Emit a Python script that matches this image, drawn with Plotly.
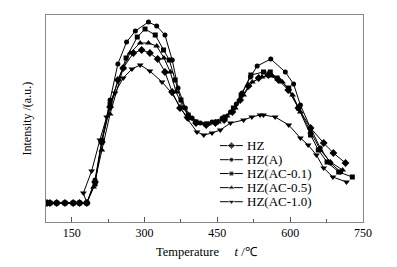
import plotly.graph_objects as go

# ---- data (temperature in degC, intensity in a.u.) ----
names = ["HZ", "HZ(A)", "HZ(AC-0.1)", "HZ(AC-0.5)", "HZ(AC-1.0)"]
symbols = ["diamond", "circle", "square", "triangle-up", "triangle-down"]

base_T = [99, 105, 119, 136, 153, 166, 181]
base_I = [19, 19, 19, 19, 19, 19, 19]

hz_T = [198, 212, 229, 245, 256, 277, 294, 311, 327, 342, 357, 373, 390, 406, 427, 446,
        464, 481, 497, 514, 535, 555, 576, 596, 617, 642, 669, 689, 714]
hz_I = [40, 80, 115, 142, 154, 169, 172, 169, 163, 150, 130, 114, 104, 99, 97, 99,
        102, 110, 122, 136, 144, 147, 142, 132, 114, 94, 79, 69, 59]

hza_T = [198, 212, 229, 245, 263, 281, 308, 325, 342, 357, 369, 384, 398, 415, 439, 460,
         477, 489, 501, 518, 532, 560, 590, 607, 621, 642, 662, 683, 704]
hza_I = [42, 82, 122, 158, 180, 191, 200, 196, 187, 162, 134, 114, 104, 99, 100, 104,
         110, 118, 129, 145, 156, 163, 150, 138, 117, 94, 74, 59, 50]

hz01_T = [198, 212, 229, 262, 285, 301, 322, 339, 351, 363, 375, 390, 406, 427, 448, 466,
          483, 499, 519, 545, 559, 573, 597, 617, 642, 658, 676, 700, 728]
hz01_I = [38, 80, 118, 164, 185, 193, 187, 172, 162, 142, 122, 107, 100, 98, 100, 105,
          114, 127, 147, 150, 150, 144, 134, 114, 87, 72, 60, 50, 45]

hz05_T = [195, 212, 229, 256, 270, 291, 308, 325, 340, 353, 365, 380, 394, 410, 431, 452,
          470, 487, 504, 522, 542, 563, 584, 605, 621, 642, 662, 683, 708]
hz05_I = [35, 72, 108, 154, 169, 179, 179, 176, 164, 150, 130, 114, 104, 99, 98, 100,
          106, 114, 127, 140, 145, 146, 140, 127, 110, 90, 72, 60, 52]

hz10_T = [174, 191, 208, 222, 239, 256, 274, 291, 311, 336, 356, 387, 408, 422, 439, 456,
          477, 504, 521, 538, 545, 569, 597, 621, 637, 654, 669, 688, 716]
hz10_I = [29, 51, 82, 105, 129, 144, 153, 157, 151, 140, 129, 104, 90, 87, 89, 92,
          99, 102, 105, 107, 107, 105, 97, 84, 77, 67, 54, 45, 40]

series_T = [hz_T, hza_T, hz01_T, hz05_T, hz10_T]
series_I = [hz_I, hza_I, hz01_I, hz05_I, hz10_I]
marker_sizes = [6, 5, 5, 6, 6]

x_ticks = [150, 300, 450, 600, 750]

fig = go.Figure()

for name, sym, T, I, ms in zip(names, symbols, series_T, series_I, marker_sizes):
    fig.add_trace(go.Scatter(
        x=base_T + T, y=base_I + I, mode="lines+markers", name=name,
        line=dict(color="black", width=1),
        marker=dict(symbol=sym, size=ms, color="black"),
        showlegend=False))

# ---- hand-drawn legend on an overlay axis (0..1 both ways) ----
leg_y = [0.369, 0.301, 0.234, 0.166, 0.098]
for name, sym, yy, ms in zip(names, symbols, leg_y, marker_sizes):
    fig.add_trace(go.Scatter(
        x=[0.549, 0.585, 0.621], y=[yy, yy, yy], mode="lines+markers",
        line=dict(color="black", width=1),
        marker=dict(symbol=sym, size=[0, ms, 0], color="black"),
        xaxis="x2", yaxis="y2", showlegend=False, hoverinfo="skip"))
    fig.add_annotation(x=0.627, y=yy, xref="x2", yref="y2", text=name,
                       showarrow=False, xanchor="left", yanchor="middle",
                       font=dict(family="Liberation Serif", size=13, color="black"))

fig.add_annotation(x=0.507, y=-0.1435, xref="paper", yref="paper",
                   text="Temperature&nbsp;&nbsp;&nbsp;&nbsp;&nbsp;<i>t</i> /℃",
                   showarrow=False, xanchor="center", yanchor="middle",
                   font=dict(family="Liberation Serif", size=12.5, color="black"))
fig.add_annotation(x=-0.06, y=0.5, xref="paper", yref="paper",
                   text="Intensity /(a.u.)", textangle=-90,
                   showarrow=False, xanchor="center", yanchor="middle",
                   font=dict(family="Liberation Serif", size=12, color="black"))

fig.update_layout(
    width=389, height=259,
    margin=dict(l=38, r=34, t=7, b=45),
    paper_bgcolor="white", plot_bgcolor="white",
    font=dict(family="Liberation Serif", size=12, color="black"),
    xaxis=dict(range=[97, 750], tickvals=x_ticks, ticks="inside", ticklen=5,
               tickcolor="#555", showgrid=False, zeroline=False,
               showline=True, linecolor="#888", linewidth=1, mirror=True,
               minor=dict(dtick=75, tick0=150, ticks="inside", ticklen=3,
                          tickcolor="#555", showgrid=False),
               tickfont=dict(family="Liberation Serif", size=12)),
    yaxis=dict(range=[0, 207], showticklabels=False, ticks="", showgrid=False,
               zeroline=False, showline=True, linecolor="#888", linewidth=1,
               mirror=True),
    xaxis2=dict(range=[0, 1], overlaying="x", visible=False),
    yaxis2=dict(range=[0, 1], overlaying="y", visible=False),
)

fig.write_html("out.html")
